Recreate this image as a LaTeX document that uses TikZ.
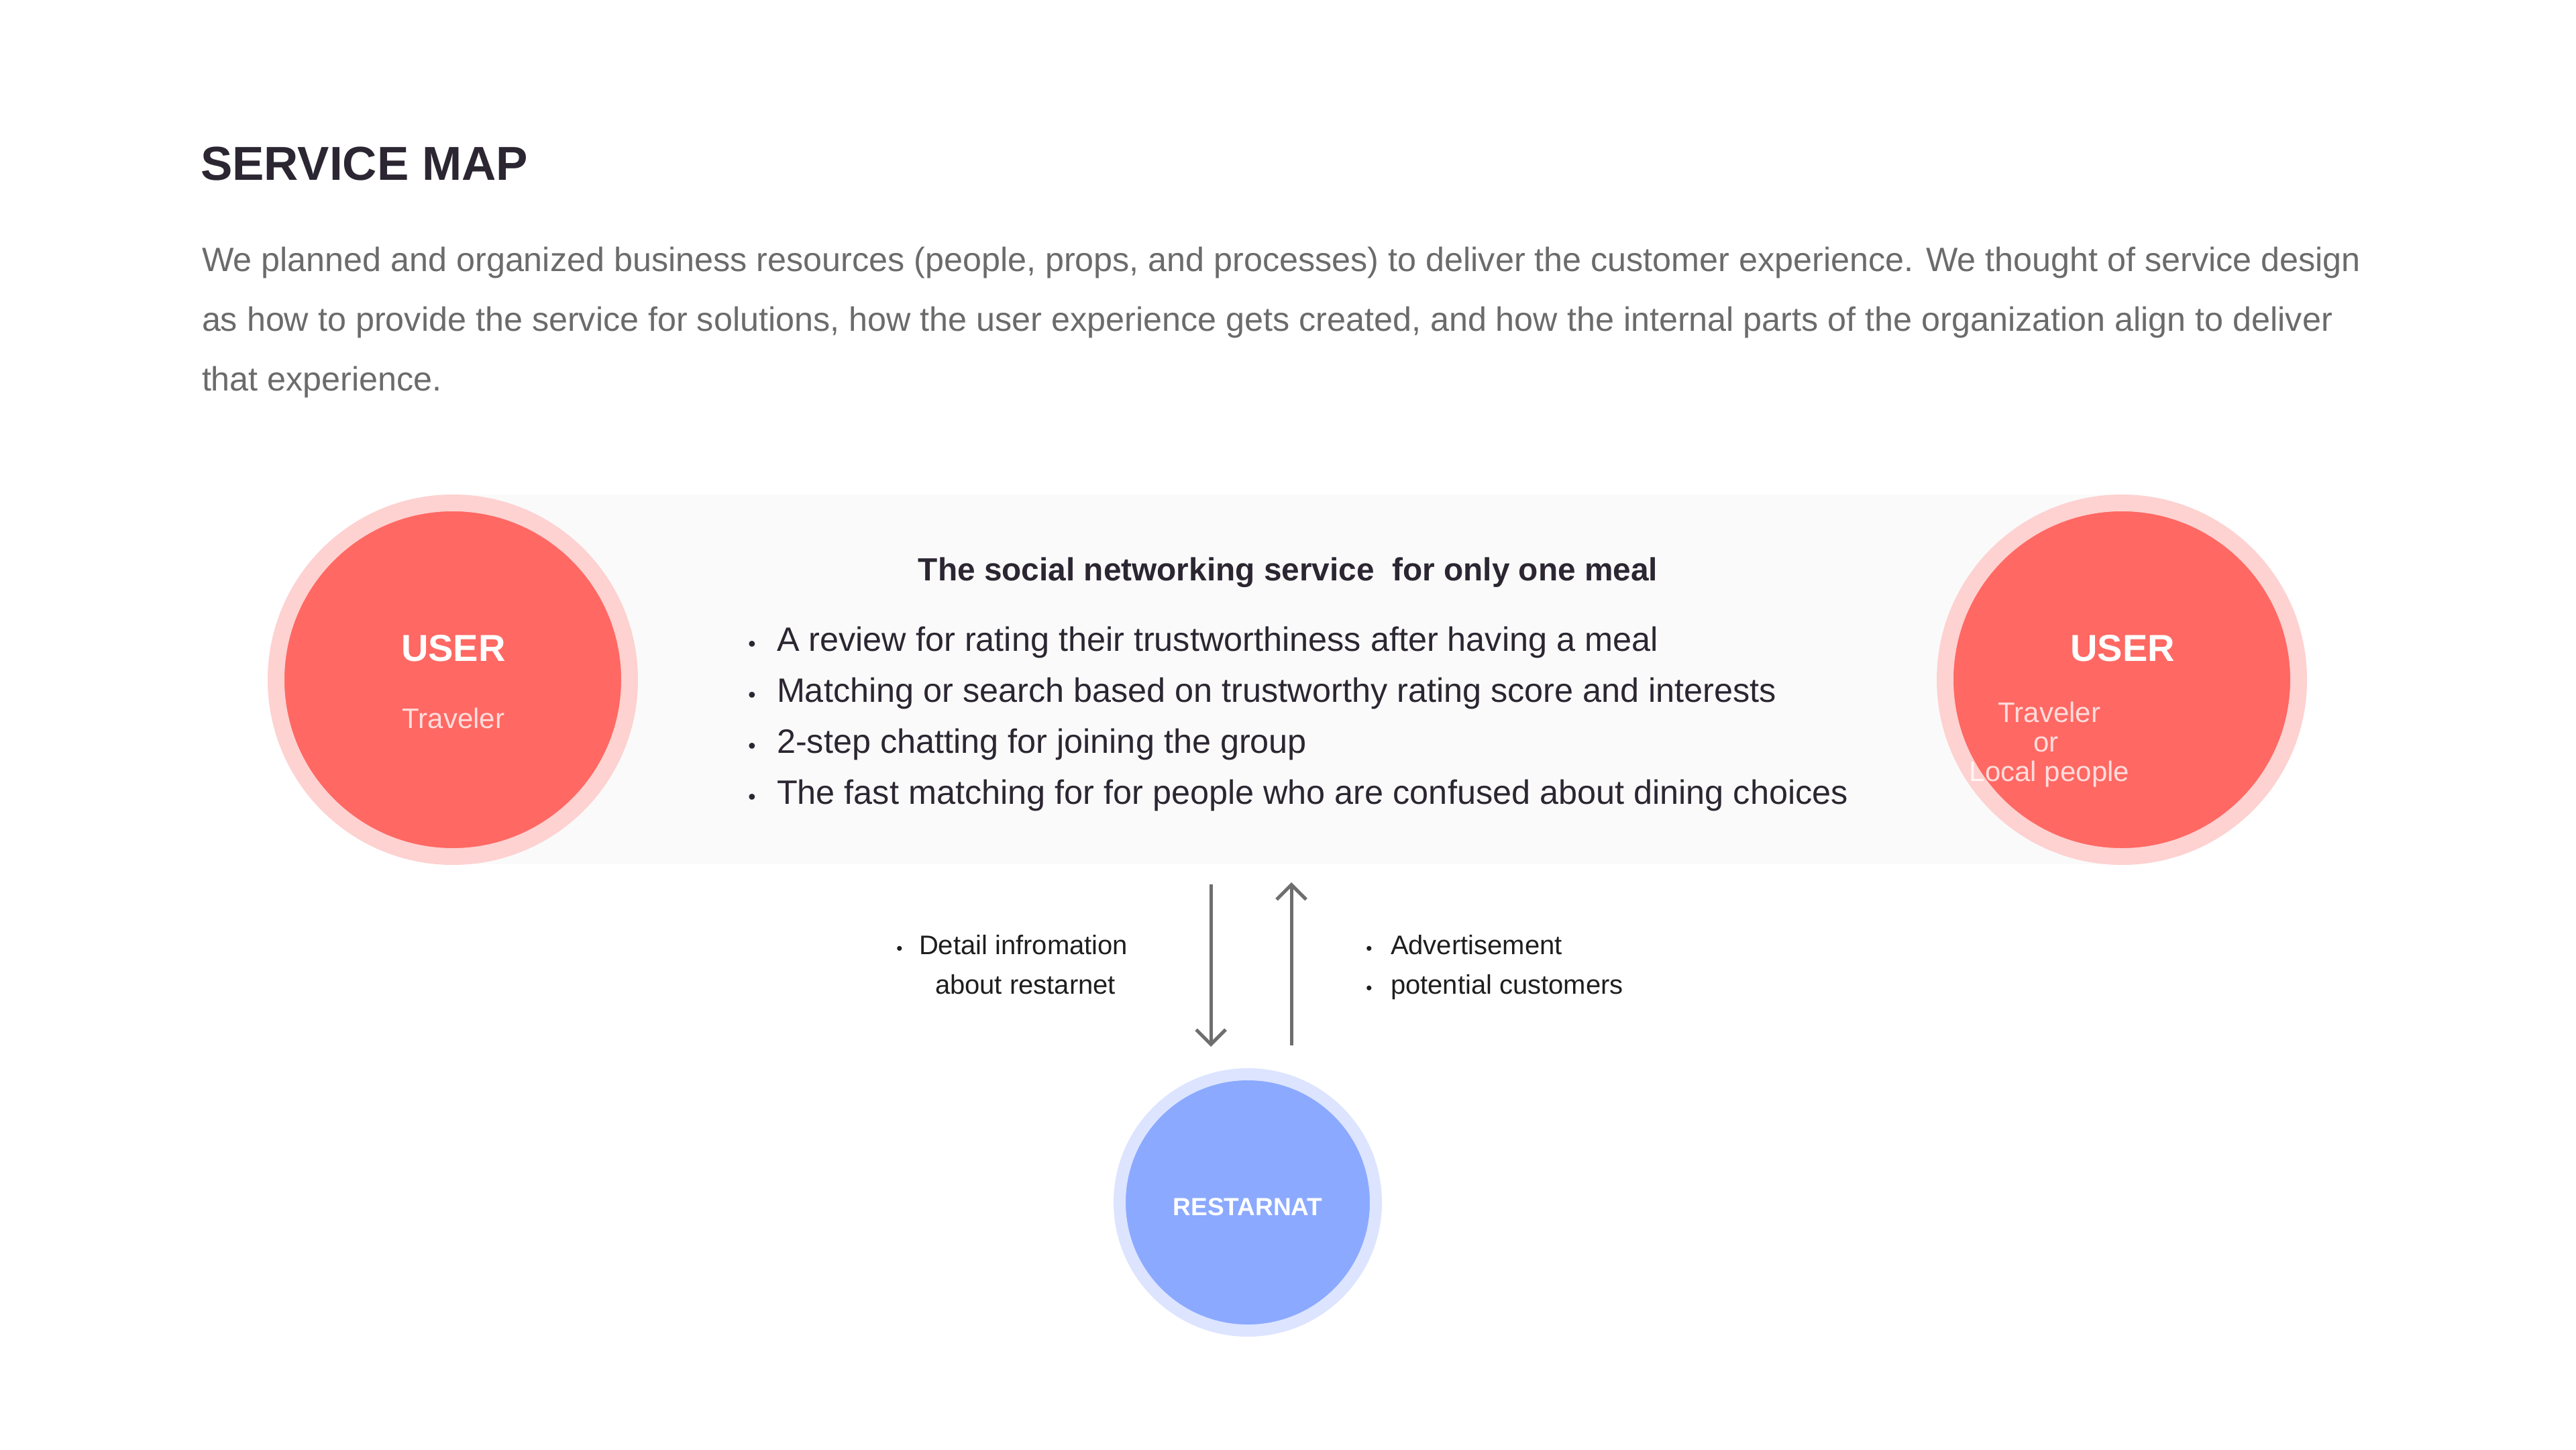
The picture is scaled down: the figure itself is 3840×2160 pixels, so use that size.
\documentclass[tikz,border=0pt]{standalone}
\usepackage{fontspec}
\setmainfont{Liberation Sans}
\usetikzlibrary{arrows.meta}
\definecolor{ink}{HTML}{2B2631}
\definecolor{para}{HTML}{6B6B6B}
\definecolor{coral}{HTML}{FF6863}
\definecolor{coralring}{HTML}{FDD2D1}
\definecolor{blueone}{HTML}{8BA9FF}
\definecolor{bluering}{HTML}{DCE4FF}
\definecolor{band}{HTML}{FAFAFA}
\definecolor{arrowgray}{HTML}{6E6E6E}
\definecolor{labelink}{HTML}{1E1E1E}
\begin{document}
\begin{tikzpicture}[x=1pt,y=-1pt,
  every node/.style={inner sep=0pt, outer sep=0pt},
  txt/.style={anchor=base west},
  usercircle/.style={circle, fill=coral, draw=coralring, line width=25pt, minimum size=527pt},
  restcircle/.style={circle, fill=blueone, draw=bluering, line width=18pt, minimum size=382pt},
  titlefont/.style={font=\fontsize{71}{80}\selectfont\bfseries, text=ink},
  parafont/.style={font=\fontsize{50.3}{60}\selectfont, text=para},
  headfont/.style={font=\fontsize{47.8}{56}\selectfont\bfseries, text=ink},
  itemfont/.style={font=\fontsize{50.4}{60}\selectfont, text=ink},
  dotfont/.style={font=\fontsize{32}{38}\selectfont, text=ink},
  userfont/.style={font=\fontsize{56}{64}\selectfont\bfseries, text=white},
  subfont/.style={font=\fontsize{42}{44}\selectfont, text=white, text opacity=0.78},
  smallfont/.style={font=\fontsize{40}{48}\selectfont, text=labelink},
  smalldot/.style={font=\fontsize{26}{30}\selectfont, text=labelink},
  flow/.style={draw=arrowgray, line width=5pt, -{Straight Barb[length=22pt,width=44pt,line width=5pt]}}
]
\useasboundingbox (0,0) rectangle (3840,2160);
\fill[white] (0,0) rectangle (3840,2160);

% title and paragraph
\node[txt, titlefont] (title) at (299,268) {SERVICE MAP};
\node[txt, parafont] (p1) at (301,404) {We planned and organized business resources (people, props, and processes) to deliver the customer experience. We thought of service design};
\node[txt, parafont] (p2) at (301,493) {as how to provide the service for solutions, how the user experience gets created, and how the internal parts of the organization align to deliver};
\node[txt, parafont] (p3) at (301,582) {that experience.};

% band
\node[rectangle, fill=band, minimum width=2488pt, minimum height=551pt] (band) at (1919,1012.5) {};

% user circles
\node[usercircle] (userL) at (675,1013) {};
\node[usercircle] (userR) at (3163,1013) {};
\node[anchor=base, userfont] (userLt) at (676,985) {USER};
\node[anchor=base, subfont] (userLs) at (676,1085) {Traveler};
\node[anchor=base, userfont] (userRt) at (3164,985) {USER};
\node[anchor=base, subfont] (userRa) at (3055,1076) {Traveler};
\node[anchor=base, subfont] (userRb) at (3050,1120) {or};
\node[anchor=base, subfont] (userRc) at (3055,1164) {Local people};

% band text
\node[anchor=base, headfont] (head) at (1920,865) {The social networking service\ \ for only one meal};
\node[anchor=base, dotfont] (d1) at (1121,970) {•};
\node[anchor=base, dotfont] (d2) at (1121,1046) {•};
\node[anchor=base, dotfont] (d3) at (1121,1122) {•};
\node[anchor=base, dotfont] (d4) at (1121,1198) {•};
\node[txt, itemfont] (i1) at (1158,970) {A review for rating their trustworthiness after having a meal};
\node[txt, itemfont] (i2) at (1158,1046) {Matching or search based on trustworthy rating score and interests};
\node[txt, itemfont] (i3) at (1158,1122) {2-step chatting for joining the group};
\node[txt, itemfont] (i4) at (1158,1198) {The fast matching for for people who are confused about dining choices};

% restaurant
\node[restcircle] (rest) at (1860,1792) {};
\node[anchor=base, font=\fontsize{37}{44}\selectfont\bfseries, text=white] (restt) at (1860,1811) {RESTARNAT};

% arrows
\coordinate (downS) at (1805,1318);
\coordinate (downE) at (1805,1560);
\coordinate (upS) at (1925,1558);
\coordinate (upE) at (1925,1315);
\draw[flow] (downS) -- (downE);
\draw[flow] (upS) -- (upE);

% arrow labels
\node[anchor=base, smalldot] (ld1) at (1341,1422) {•};
\node[txt, smallfont] (l1) at (1370,1422) {Detail infromation};
\node[txt, smallfont] (l2) at (1394,1481) {about restarnet};
\node[anchor=base, smalldot] (rd1) at (2041,1422) {•};
\node[anchor=base, smalldot] (rd2) at (2041,1481) {•};
\node[txt, smallfont] (r1) at (2073,1422) {Advertisement};
\node[txt, smallfont] (r2) at (2073,1481) {potential customers};
\end{tikzpicture}
\end{document}
